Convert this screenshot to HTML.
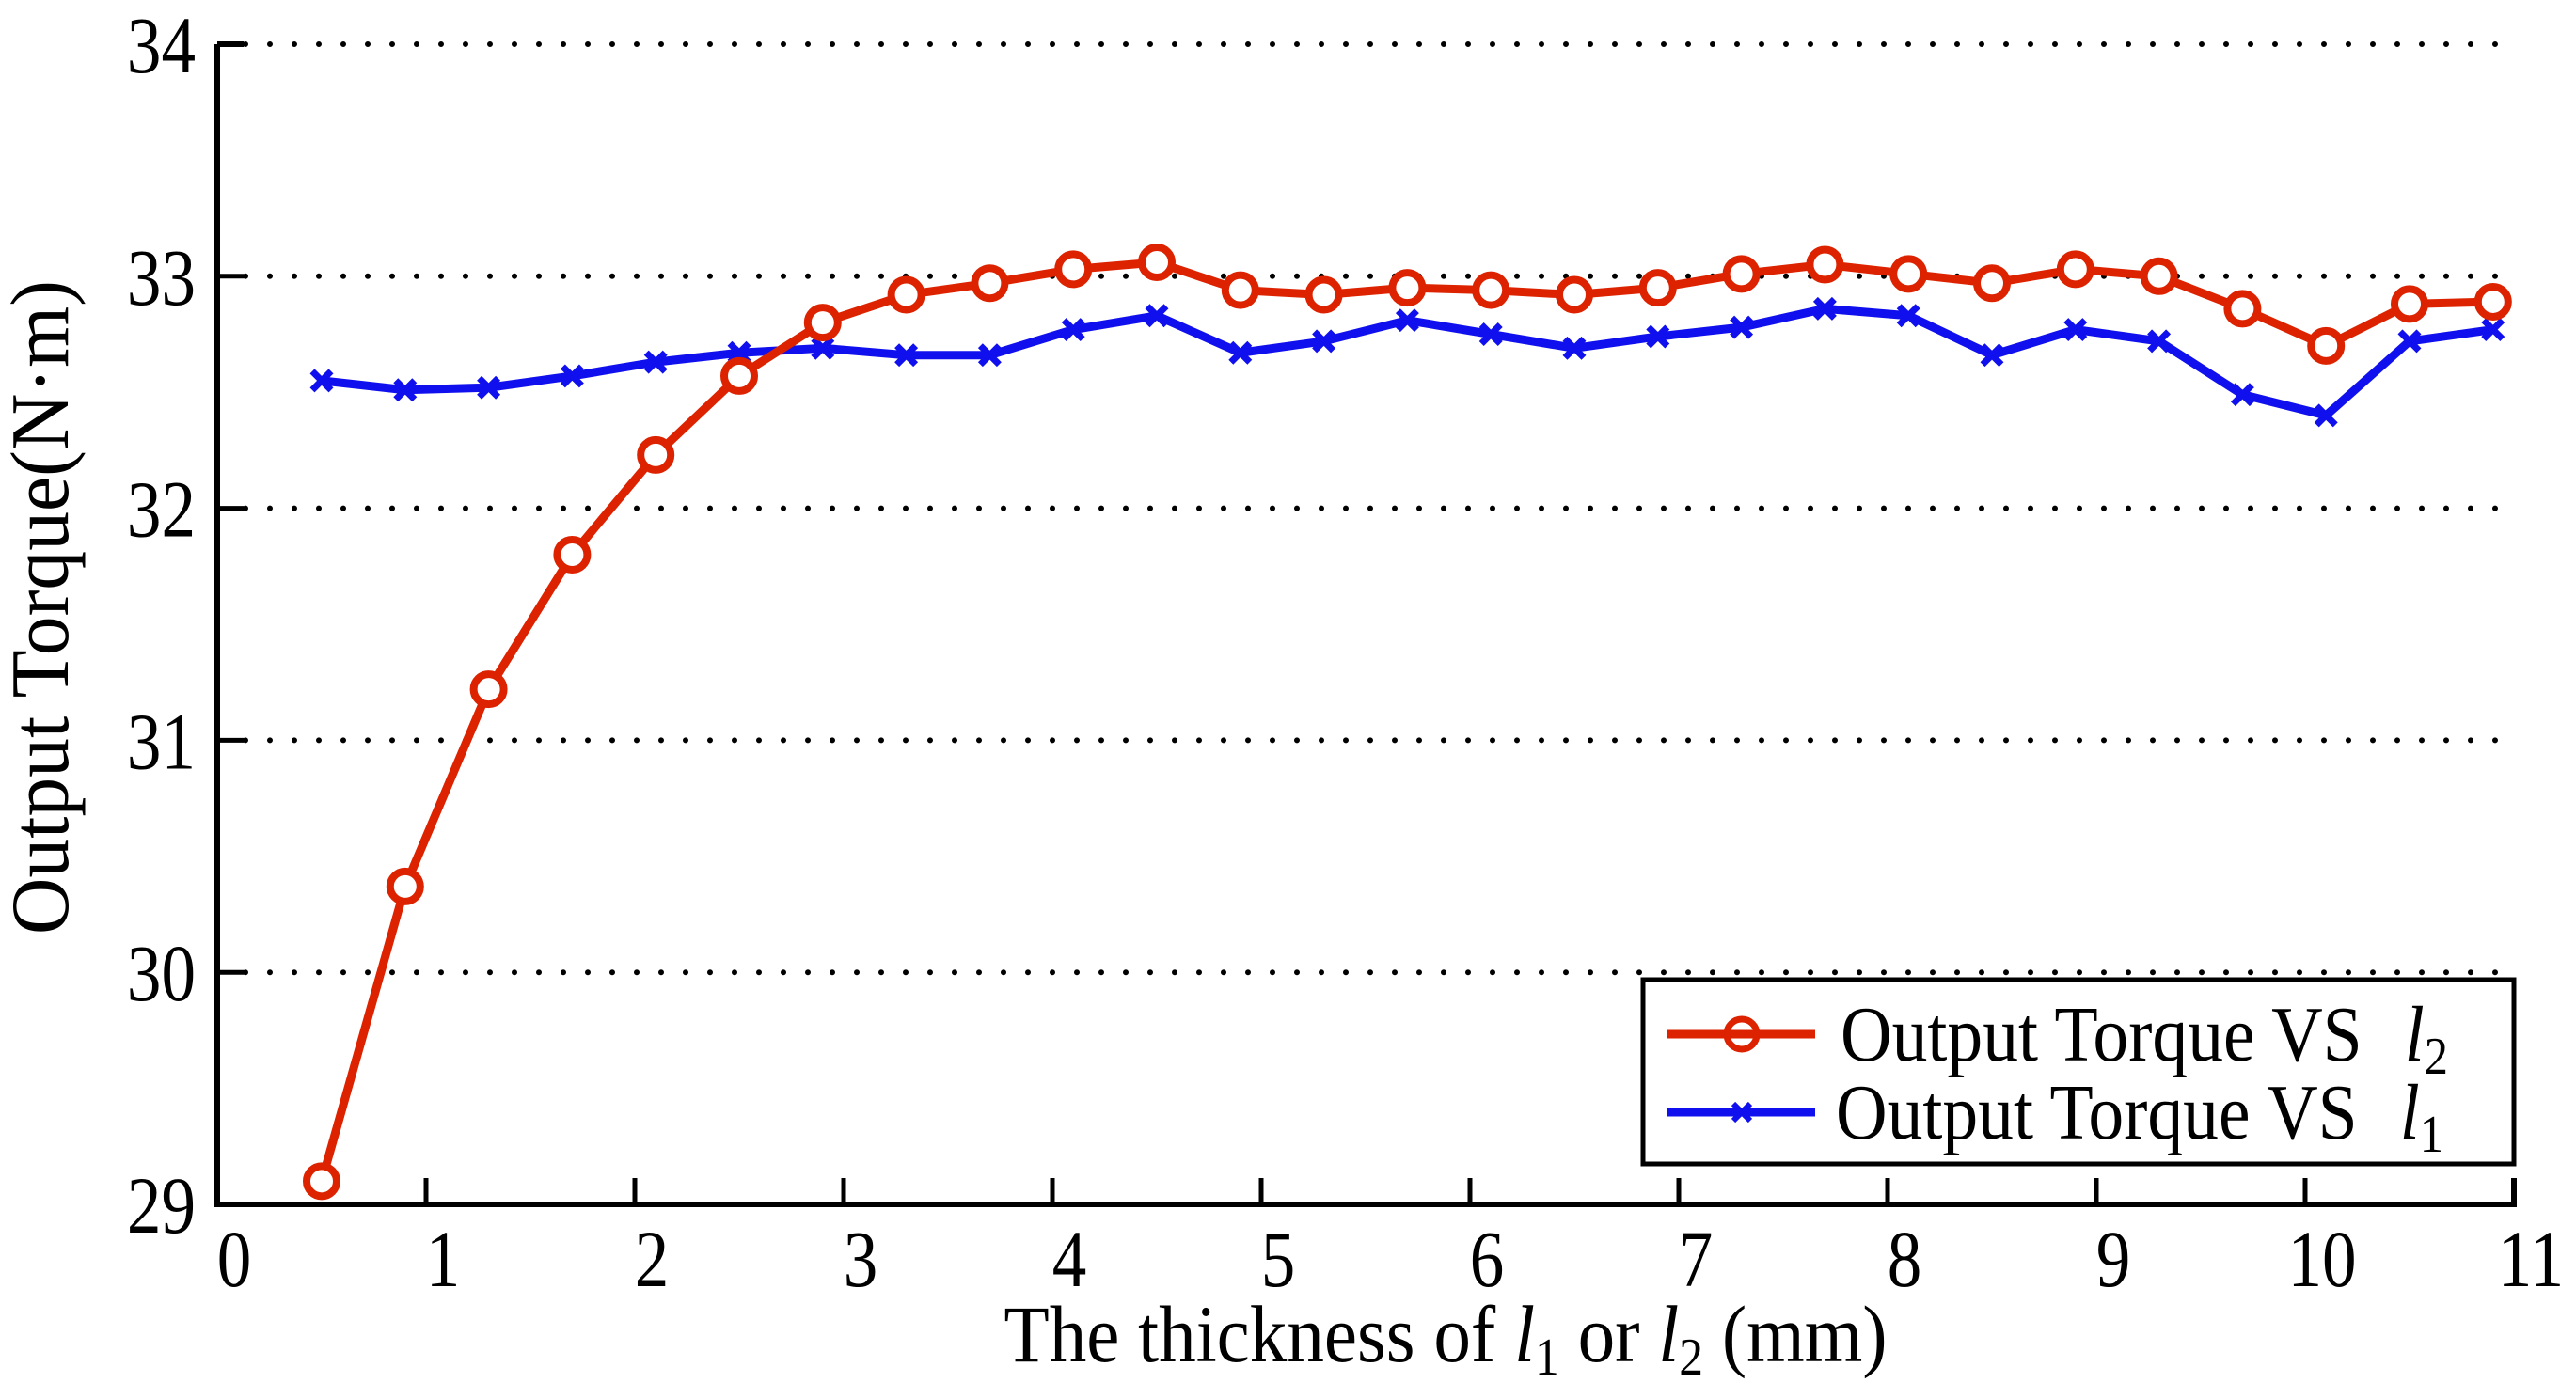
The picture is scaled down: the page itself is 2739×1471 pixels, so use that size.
<!DOCTYPE html>
<html><head><meta charset="utf-8">
<style>
html,body{margin:0;padding:0;background:#fff;}
svg{display:block;font-family:"Liberation Serif",serif;}
</style></head>
<body>
<svg id="chart" width="2739" height="1471" viewBox="0 0 2739 1471" xmlns="http://www.w3.org/2000/svg">
<g id="grid"></g>
<g id="axes"></g>
<g id="series"></g>
<text transform="translate(72,646) rotate(-90) scale(0.95,1)" text-anchor="middle" font-size="88">Output Torque(N·m)</text>
<text x="1537" y="1448" text-anchor="middle" font-size="86" transform="translate(1537,0) scale(0.92,1) translate(-1537,0)">The thickness of <tspan font-style="italic">l</tspan><tspan font-size="56" dy="14">1</tspan><tspan dy="-14"> or </tspan><tspan font-style="italic">l</tspan><tspan font-size="56" dy="14">2</tspan><tspan dy="-14"> (mm)</tspan></text>
<g>
<rect x="1747" y="1042" width="926" height="196" fill="#fff" stroke="#000" stroke-width="5"/>
<g>
<line x1="1773" y1="1100" x2="1930" y2="1100" stroke="#dd2200" stroke-width="9"/>
<circle cx="1852" cy="1100" r="16" fill="none" stroke="#dd2200" stroke-width="7"/>
<text x="1957" y="1128" font-size="84" transform="translate(1957,0) scale(0.9,1) translate(-1957,0)">Output Torque VS<tspan font-style="italic" dx="50">l</tspan><tspan font-size="56" dy="14">2</tspan></text>
</g>
<g>
<line x1="1773" y1="1183" x2="1930" y2="1183" stroke="#1010ee" stroke-width="9"/>
<path d="M1843 1174 L1861 1192 M1861 1174 L1843 1192" stroke="#1010ee" stroke-width="6"/>
<text x="1952" y="1211" font-size="84" transform="translate(1952,0) scale(0.9,1) translate(-1952,0)">Output Torque VS<tspan font-style="italic" dx="50">l</tspan><tspan font-size="56" dy="14">1</tspan></text>
</g>
</g>
</svg>
<script>
const xValues = [0.5,0.9,1.3,1.7,2.1,2.5,2.9,3.3,3.7,4.1,4.5,4.9,5.3,5.7,6.1,6.5,6.9,7.3,7.7,8.1,8.5,8.9,9.3,9.7,10.1,10.5,10.9];
const torqueL2 = [29.1,30.37,31.22,31.8,32.23,32.57,32.8,32.92,32.97,33.03,33.06,32.94,32.92,32.95,32.94,32.92,32.95,33.01,33.05,33.01,32.97,33.03,33.0,32.86,32.7,32.88,32.89];
const torqueL1 = [32.55,32.51,32.52,32.57,32.63,32.67,32.69,32.66,32.66,32.77,32.83,32.67,32.72,32.81,32.75,32.69,32.74,32.78,32.86,32.83,32.66,32.77,32.72,32.49,32.4,32.72,32.77];
const xTicks = [0,1,2,3,4,5,6,7,8,9,10,11];
const yTicks = [29,30,31,32,33,34];

const NS = "http://www.w3.org/2000/svg";
const X0 = 231, X1 = 2673, Y0 = 1281, Y1 = 47;
const xMin = 0, xMax = 11, yMin = 29, yMax = 34;
function sx(v){ return X0 + (v - xMin) / (xMax - xMin) * (X1 - X0); }
function sy(v){ return Y0 - (v - yMin) / (yMax - yMin) * (Y0 - Y1); }
function mk(tag, attrs, parent){
  const e = document.createElementNS(NS, tag);
  for (const k in attrs) e.setAttribute(k, attrs[k]);
  parent.appendChild(e);
  return e;
}
const grid = document.getElementById('grid');
const axes = document.getElementById('axes');
const series = document.getElementById('series');

yTicks.forEach(t => {
  if (t > yMin) {
    const g = mk('line', {x1: X0 + 30, x2: X1, y1: sy(t), y2: sy(t), stroke: '#000', 'stroke-width': 6, 'stroke-dasharray': '0 26', 'stroke-linecap': 'round'}, grid);
    
    
  }
  const tk = mk('line', {x1: X0, x2: X0 + 28, y1: sy(t), y2: sy(t), stroke: '#000', 'stroke-width': 5}, axes);
  
  
  const lb = mk('text', {x: 208, y: sy(t) + 30, 'text-anchor': 'end', 'font-size': 86, transform: 'translate(208,0) scale(0.85,1) translate(-208,0)'}, axes);
  lb.textContent = t;
  
  
});
xTicks.forEach(t => {
  const tk = mk('line', {x1: sx(t), x2: sx(t), y1: Y0, y2: Y0 - 28, stroke: '#000', 'stroke-width': 5}, axes);
  
  
  const tx = sx(t) + 18;
  const lb = mk('text', {x: tx, y: 1368, 'text-anchor': 'middle', 'font-size': 86, transform: 'translate(' + tx + ',0) scale(0.85,1) translate(' + (-tx) + ',0)'}, axes);
  lb.textContent = t;
  
  
});
const ax = mk('path', {d: 'M' + X0 + ' ' + Y1 + ' L' + X0 + ' ' + Y0 + ' L' + X1 + ' ' + Y0 + ' L' + X1 + ' ' + (Y0 - 28), fill: 'none', stroke: '#000', 'stroke-width': 6}, axes);


const tc = mk('line', {x1: X0, x2: X0 + 28, y1: Y1, y2: Y1, stroke: '#000', 'stroke-width': 6}, axes);



const bl = mk('polyline', {points: xValues.map((x, i) => sx(x) + ',' + sy(torqueL1[i])).join(' '), fill: 'none', stroke: '#1010ee', 'stroke-width': 9, 'stroke-linejoin': 'round'}, series);


xValues.forEach((x, i) => {
  const cx = sx(x), cy = sy(torqueL1[i]);
  const m = mk('path', {d: 'M' + (cx - 10) + ' ' + (cy - 10) + ' L' + (cx + 10) + ' ' + (cy + 10) + ' M' + (cx + 10) + ' ' + (cy - 10) + ' L' + (cx - 10) + ' ' + (cy + 10), stroke: '#1010ee', 'stroke-width': 7}, series);
  
  
});
const rl = mk('polyline', {points: xValues.map((x, i) => sx(x) + ',' + sy(torqueL2[i])).join(' '), fill: 'none', stroke: '#dd2200', 'stroke-width': 9, 'stroke-linejoin': 'round'}, series);


xValues.forEach((x, i) => {
  const c = mk('circle', {cx: sx(x), cy: sy(torqueL2[i]), r: 16, fill: '#fff', stroke: '#dd2200', 'stroke-width': 8}, series);
  
  
});
</script>
</body></html>
